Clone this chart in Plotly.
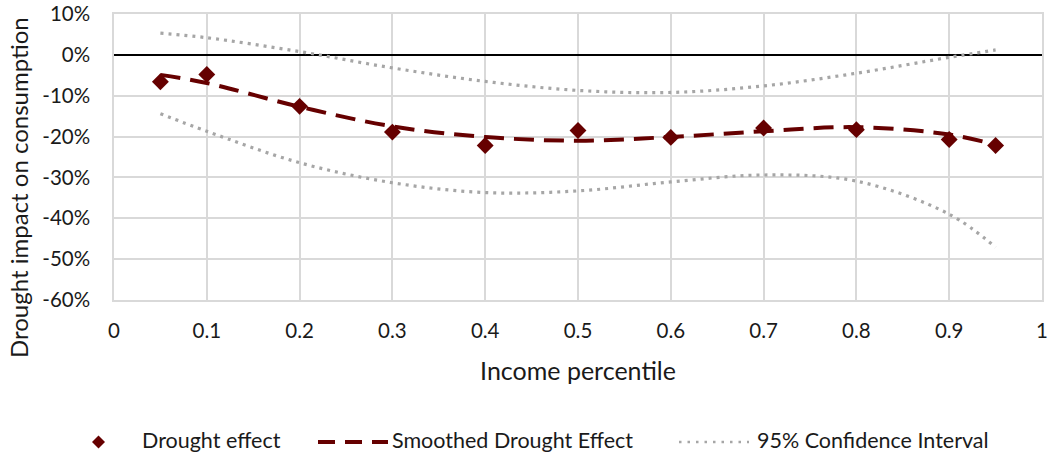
import plotly.graph_objects as go

percentile = [0.05, 0.1, 0.2, 0.3, 0.4, 0.5, 0.6, 0.7, 0.8, 0.9, 0.95]
drought_effect = [-0.066, -0.048, -0.126, -0.189, -0.222, -0.185, -0.202, -0.179, -0.183, -0.207, -0.222]
smoothed_effect = [-0.049, -0.069, -0.127, -0.175, -0.201, -0.210, -0.201, -0.187, -0.177, -0.195, -0.220]
ci_upper = [0.053, 0.042, 0.008, -0.032, -0.065, -0.087, -0.092, -0.076, -0.045, -0.006, 0.012]
ci_lower = [-0.144, -0.187, -0.264, -0.313, -0.337, -0.333, -0.311, -0.294, -0.309, -0.390, -0.471]

x_ticks = [0, 0.1, 0.2, 0.3, 0.4, 0.5, 0.6, 0.7, 0.8, 0.9, 1]
x_labels = ["0", "0.1", "0.2", "0.3", "0.4", "0.5", "0.6", "0.7", "0.8", "0.9", "1"]
y_ticks = [0.1, 0, -0.1, -0.2, -0.3, -0.4, -0.5, -0.6]
y_labels = ["10%", "0%", "-10%", "-20%", "-30%", "-40%", "-50%", "-60%"]

series_names = ["Drought effect", "Smoothed Drought Effect", "95% Confidence Interval"]

dark_red = "#660000"
gray = "#a6a6a6"
grid = "#d9d9d9"
font = "Lato"
text_color = "#1a1a1a"

# Plot area in page pixels: x 114..1042, y 14..300
W, H = 1050, 456
PL, PR, PT, PB = 114, 1042, 14, 300


def xp(px):
    return (px - PL) / (PR - PL)


def yp(py):
    return (PB - py) / (PB - PT)


fig = go.Figure()
fig.add_trace(go.Scatter(
    x=percentile, y=ci_upper, mode="lines", name=series_names[2],
    line=dict(color=gray, width=3.2, dash="3px,5px", shape="spline", smoothing=1.0),
    showlegend=False,
))
fig.add_trace(go.Scatter(
    x=percentile, y=ci_lower, mode="lines", name=series_names[2],
    line=dict(color=gray, width=3.2, dash="3px,5px", shape="spline", smoothing=1.0),
    showlegend=False,
))
fig.add_trace(go.Scatter(
    x=percentile, y=smoothed_effect, mode="lines", name=series_names[1],
    line=dict(color=dark_red, width=4, dash="20px,10px", shape="spline", smoothing=1.0),
    showlegend=False,
))
fig.add_trace(go.Scatter(
    x=percentile, y=drought_effect, mode="markers", name=series_names[0],
    marker=dict(symbol="diamond", size=13, color=dark_red),
    showlegend=False,
))

# Legend (drawn manually to match the reference spacing)
leg_y = 442
shapes = [
    dict(type="path", xref="paper", yref="paper", xsizemode="pixel", ysizemode="pixel",
         xanchor=xp(98.5), yanchor=yp(leg_y), path="M 0 6.5 L 6.5 0 L 0 -6.5 L -6.5 0 Z",
         fillcolor=dark_red, line=dict(width=0), layer="above"),
    dict(type="line", xref="paper", yref="paper", x0=xp(318), x1=xp(388), y0=yp(leg_y), y1=yp(leg_y),
         line=dict(color=dark_red, width=4, dash="17px,10px"), layer="above"),
    dict(type="line", xref="paper", yref="paper", x0=xp(679), x1=xp(749), y0=yp(leg_y), y1=yp(leg_y),
         line=dict(color=gray, width=2.5, dash="2.5px,6px"), layer="above"),
]
legend_text_x = [140, 390, 755]
annotations = [
    dict(text=name, xref="paper", yref="paper", x=xp(tx), y=yp(leg_y - 2),
         xanchor="left", yanchor="middle", showarrow=False,
         font=dict(family=font, size=21.5, color=text_color))
    for name, tx in zip(series_names, legend_text_x)
]
annotations.append(dict(
    text="Drought impact on consumption", textangle=-90,
    xref="paper", yref="paper", x=xp(19), y=yp(188),
    xanchor="center", yanchor="middle", showarrow=False,
    font=dict(family=font, size=24, color=text_color),
))

fig.update_layout(
    width=W, height=H,
    margin=dict(l=PL, r=W - PR, t=PT, b=H - PB),
    paper_bgcolor="white", plot_bgcolor="white",
    font=dict(family=font, size=20.5, color=text_color),
    showlegend=False,
    shapes=shapes,
    annotations=annotations,
)
fig.update_xaxes(
    range=[0, 1], tickvals=x_ticks, ticktext=x_labels, automargin=False,
    ticklabeloverflow="allow",
    showgrid=True, gridcolor=grid, gridwidth=1.5,
    showline=True, linecolor=grid, linewidth=1.5, mirror=True,
    zeroline=False, ticks="", ticklabelstandoff=12,
    title=dict(text="Income percentile", font=dict(family=font, size=25, color=text_color), standoff=21),
)
fig.update_yaxes(
    range=[-0.6, 0.1], tickvals=y_ticks, ticktext=y_labels, automargin=False,
    ticklabeloverflow="allow",
    showgrid=True, gridcolor=grid, gridwidth=1.5,
    showline=True, linecolor=grid, linewidth=1.5, mirror=True,
    zeroline=True, zerolinecolor="#000000", zerolinewidth=2,
    ticks="", ticklabelstandoff=18,
)

fig.write_html(
    "out.html",
    config={"displayModeBar": False},
    post_script="document.body.style.margin='0';document.body.style.overflow='hidden';",
)
